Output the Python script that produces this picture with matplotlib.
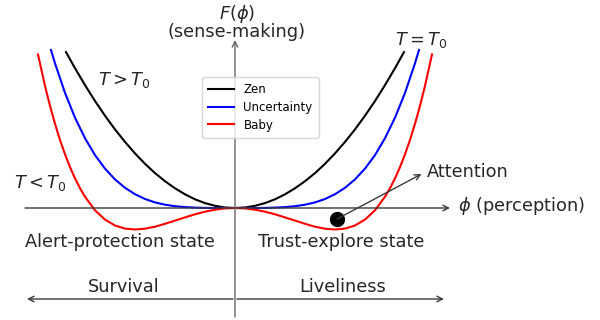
import matplotlib
matplotlib.use('Agg')
import matplotlib.pyplot as plt

# curves (phi, F)
zen_phi = [-1.69, -1.6, -1.5, -1.4, -1.3, -1.2, -1.1, -1.0, -0.9, -0.8, -0.7, -0.6, -0.5, -0.4, -0.3, -0.2, -0.1,
           0.0, 0.1, 0.2, 0.3, 0.4, 0.5, 0.6, 0.7, 0.8, 0.9, 1.0, 1.1, 1.2, 1.3, 1.4, 1.5, 1.6, 1.69]
zen_F = [1.559, 1.398, 1.229, 1.070, 0.923, 0.786, 0.661, 0.546, 0.442, 0.349, 0.268, 0.197, 0.137, 0.087, 0.049, 0.022, 0.005,
         0.000, 0.005, 0.022, 0.049, 0.087, 0.137, 0.197, 0.268, 0.349, 0.442, 0.546, 0.661, 0.786, 0.923, 1.070, 1.229, 1.398, 1.559]

unc_phi = [-1.84, -1.8, -1.7, -1.6, -1.5, -1.4, -1.3, -1.2, -1.1, -1.0, -0.9, -0.8, -0.7, -0.6, -0.5, -0.4, -0.3, -0.2, -0.1,
           0.0, 0.1, 0.2, 0.3, 0.4, 0.5, 0.6, 0.7, 0.8, 0.9, 1.0, 1.1, 1.2, 1.3, 1.4, 1.5, 1.6, 1.7, 1.8, 1.84]
unc_F = [1.580, 1.447, 1.151, 0.903, 0.698, 0.529, 0.394, 0.286, 0.202, 0.138, 0.090, 0.056, 0.033, 0.018, 0.009, 0.004, 0.001, 0.000, 0.000,
         0.000, 0.000, 0.000, 0.001, 0.004, 0.009, 0.018, 0.033, 0.056, 0.090, 0.138, 0.202, 0.286, 0.394, 0.529, 0.698, 0.903, 1.151, 1.447, 1.580]

baby_phi = [-1.97, -1.9, -1.85, -1.8, -1.75, -1.7, -1.65, -1.6, -1.55, -1.5, -1.4, -1.3, -1.2, -1.1, -1.0,
            -0.9, -0.8, -0.7, -0.6, -0.5, -0.4, -0.3, -0.2, -0.1,
            0.0, 0.1, 0.2, 0.3, 0.4, 0.5, 0.6, 0.7, 0.8, 0.9,
            1.0, 1.1, 1.2, 1.3, 1.4, 1.5, 1.55, 1.6, 1.65, 1.7, 1.75, 1.8, 1.85, 1.9, 1.97]
baby_F = [1.536, 1.221, 1.022, 0.842, 0.681, 0.537, 0.409, 0.296, 0.198, 0.113, -0.023, -0.116, -0.175, -0.206, -0.215,
          -0.207, -0.187, -0.158, -0.126, -0.094, -0.063, -0.037, -0.017, -0.004,
          0.000, -0.004, -0.017, -0.037, -0.063, -0.094, -0.126, -0.158, -0.187, -0.207,
          -0.215, -0.206, -0.175, -0.116, -0.023, 0.113, 0.198, 0.296, 0.409, 0.537, 0.681, 0.842, 1.022, 1.221, 1.536]

attention_pt = (1.02, -0.11)

txt = '#262626'
axc = '#3a3a3a'
fs = 12.8

fig = plt.figure(figsize=(6, 3.2), dpi=100)
ax = fig.add_axes([0, 0, 1, 1])
ax.set_xlim(-2.35, 3.65)
ax.set_ylim(-1.12, 2.08)
ax.axis('off')

# axes drawn as arrows
ax.annotate('', xy=(2.15, 0), xytext=(-2.1, 0),
            arrowprops=dict(arrowstyle='->', color=axc, lw=1, shrinkA=0, shrinkB=0))
ax.annotate('', xy=(0, 1.68), xytext=(0, -1.09),
            arrowprops=dict(arrowstyle='->', color='#666666', lw=1, shrinkA=0, shrinkB=0))

ax.plot(zen_phi, zen_F, color='black', lw=1.5, label='Zen')
ax.plot(unc_phi, unc_F, color='blue', lw=1.5, label='Uncertainty')
ax.plot(baby_phi, baby_F, color='red', lw=1.5, label='Baby')

ax.legend(loc='upper left', bbox_to_anchor=(0.327, 0.777), fontsize=8.5,
          handlelength=2.2, borderpad=0.5, labelspacing=0.4)

ax.plot(*attention_pt, 'o', color='black', ms=10)
ax.annotate('', xy=(1.865, 0.34), xytext=attention_pt,
            arrowprops=dict(arrowstyle='->', color=axc, lw=1, shrinkA=0, shrinkB=0))
ax.text(1.92, 0.36, 'Attention', ha='left', va='center', fontsize=fs, color=txt)

ax.text(0.02, 1.86, '$F(\\phi)$\n(sense-making)', ha='center', va='center',
        fontsize=fs, color=txt, linespacing=0.8)
ax.text(-1.37, 1.28, r'$T > T_0$', ha='left', va='center', fontsize=fs, color=txt)
ax.text(1.865, 1.68, r'$T = T_0$', ha='center', va='center', fontsize=fs, color=txt)
ax.text(-2.21, 0.25, r'$T < T_0$', ha='left', va='center', fontsize=fs, color=txt)
ax.text(2.23, 0.02, r'$\phi$ (perception)', ha='left', va='center', fontsize=fs, color=txt)
ax.text(-1.155, -0.34, 'Alert-protection state', ha='center', va='center', fontsize=fs, color=txt)
ax.text(1.065, -0.34, 'Trust-explore state', ha='center', va='center', fontsize=fs, color=txt)
ax.text(-1.11, -0.79, 'Survival', ha='center', va='center', fontsize=fs, color=txt)
ax.text(1.075, -0.79, 'Liveliness', ha='center', va='center', fontsize=fs, color=txt)

ax.annotate('', xy=(-2.08, -0.91), xytext=(-0.02, -0.91),
            arrowprops=dict(arrowstyle='->', color=axc, lw=1, shrinkA=0, shrinkB=0))
ax.annotate('', xy=(2.09, -0.91), xytext=(0.02, -0.91),
            arrowprops=dict(arrowstyle='->', color=axc, lw=1, shrinkA=0, shrinkB=0))

fig.savefig('out.png', dpi=100)
